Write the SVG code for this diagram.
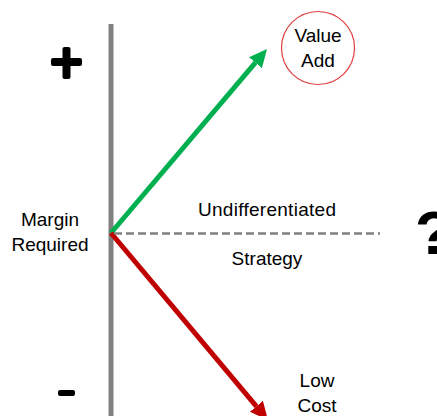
<svg xmlns="http://www.w3.org/2000/svg" width="437" height="416" viewBox="0 0 437 416">
<style>
.t{font-family:"Liberation Sans",Arial,sans-serif;font-size:19px;fill:#000;text-anchor:middle}
.b{font-family:"Liberation Sans",Arial,sans-serif;font-weight:bold;fill:#000}
</style>
<defs>
<marker id="hg" markerUnits="userSpaceOnUse" viewBox="0 0 18 17" markerWidth="18" markerHeight="17" refX="0" refY="8.5" orient="auto"><path d="M0,0 L18,8.5 L0,17 z" fill="#00b050"/></marker>
<marker id="hr" markerUnits="userSpaceOnUse" viewBox="0 0 18 17" markerWidth="18" markerHeight="17" refX="0" refY="8.5" orient="auto"><path d="M0,0 L18,8.5 L0,17 z" fill="#c00000"/></marker>
</defs>
<rect width="437" height="416" fill="#fff"/>
<g id="axis">
<line x1="111" y1="24" x2="111" y2="416" stroke="#808080" stroke-width="5"/>
<rect x="51" y="58" width="31" height="8" rx="2" fill="#000"/>
<rect x="62.5" y="47" width="8" height="32" rx="2" fill="#000"/>
<rect x="58" y="390" width="17" height="6" rx="2" fill="#000"/>
</g>
<g id="connectors">
<line x1="111" y1="233" x2="255.4" y2="62.7" stroke="#00b050" stroke-width="5" marker-end="url(#hg)"/>
<line x1="111" y1="233" x2="256.4" y2="406.3" stroke="#c00000" stroke-width="5" marker-end="url(#hr)"/>
<line x1="114" y1="233.5" x2="380" y2="233.5" stroke="#808080" stroke-width="2.5" stroke-dasharray="8,4"/>
</g>
<g id="value-add">
<circle cx="318" cy="48" r="36.5" fill="none" stroke="#e03c3c" stroke-width="1.2"/>
<text class="t" x="318" y="42">Value</text>
<text class="t" x="318" y="67">Add</text>
</g>
<g id="margin">
<text class="t" x="50" y="226">Margin</text>
<text class="t" x="50" y="251">Required</text>
</g>
<g id="undiff">
<text class="t" x="267" y="216" textLength="138">Undifferentiated</text>
<text class="t" x="267" y="265">Strategy</text>
</g>
<g id="low-cost">
<text class="t" x="317" y="387">Low</text>
<text class="t" x="317" y="412">Cost</text>
</g>
<text class="b" x="415" y="254" font-size="62">?</text>
</svg>
